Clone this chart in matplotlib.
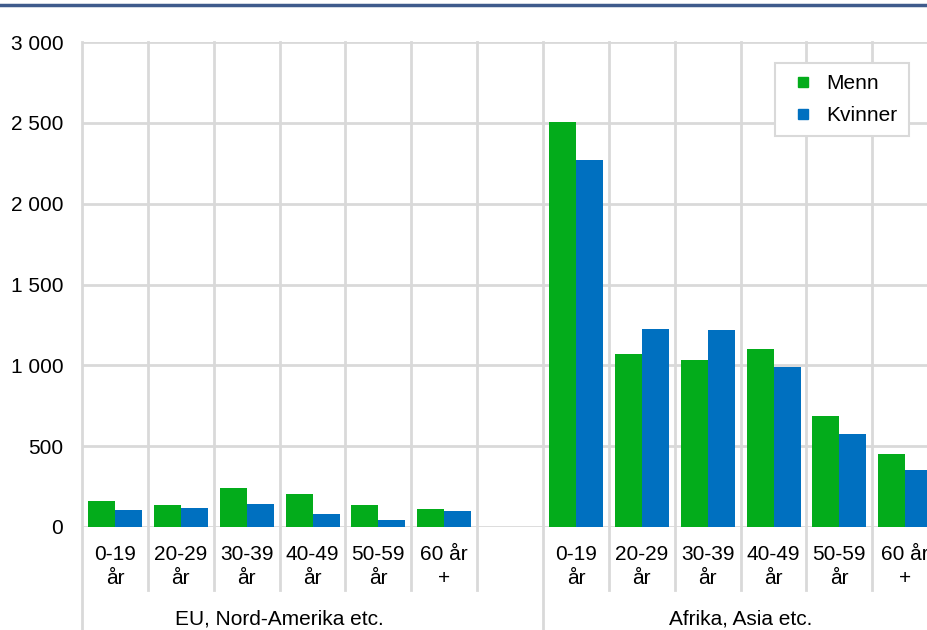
import matplotlib.pyplot as plt
import numpy as np
from matplotlib.lines import Line2D
from matplotlib.transforms import blended_transform_factory

plt.rcParams['font.family'] = ['Liberation Sans', 'DejaVu Sans']

ages = ["0-19\når", "20-29\når", "30-39\når", "40-49\når", "50-59\når", "60 år\n+"]
groups = ["EU, Nord-Amerika etc.", "Afrika, Asia etc."]
menn_eu = [160, 135, 240, 202, 138, 110]
kvinner_eu = [103, 115, 140, 80, 42, 101]
menn_af = [2506, 1068, 1031, 1103, 689, 450]
kvinner_af = [2270, 1222, 1220, 990, 578, 352]

green = "#03AC1B"
blue = "#0070C0"
grid = "#D9D9D9"

fig = plt.figure(figsize=(9.27, 6.3), dpi=100)
ax = fig.add_axes([82/927, 103/630, 845/927, 485/630])

# slots 0-5 left group, slot 6 empty, slots 7-12 right group
x_eu = np.arange(6)
x_af = np.arange(6) + 7
w = 0.41
ax.bar(x_eu - w/2, menn_eu, w, color=green, zorder=3)
ax.bar(x_eu + w/2, kvinner_eu, w, color=blue, zorder=3)
ax.bar(x_af - w/2, menn_af, w, color=green, zorder=3)
ax.bar(x_af + w/2, kvinner_af, w, color=blue, zorder=3)

ax.set_xlim(-0.5, -0.5 + 845/65.86)
ax.set_ylim(0, 3000)
ax.set_yticks(range(0, 3001, 500))
ax.set_yticklabels([f"{v:,}".replace(",", " ") for v in range(0, 3001, 500)])
ax.tick_params(axis='y', length=0, pad=13.5, labelsize=15)
ax.set_xticks([])
for s in ax.spines.values():
    s.set_visible(False)
ax.yaxis.grid(True, color=grid, linewidth=2)
ax.set_axisbelow(True)

# vertical dividers, going down into the label area
tr = blended_transform_factory(ax.transData, ax.transAxes)
for k in range(14):
    low = -0.215 if k in (0, 7) else -0.13
    ax.plot([k - 0.5, k - 0.5], [1, low], color=grid, linewidth=2,
            transform=tr, clip_on=False, zorder=1)

for xs in (x_eu, x_af):
    for x, lab in zip(xs, ages):
        ax.text(x, -0.038, lab, transform=tr, ha='center', va='top',
                fontsize=15, linespacing=1.3)
ax.text(2.5, -0.19, groups[0], transform=tr, ha='center', va='center', fontsize=15)
ax.text(9.5, -0.19, groups[1], transform=tr, ha='center', va='center', fontsize=15)

handles = [Line2D([], [], marker='s', color=green, linestyle='none', markersize=7.5),
           Line2D([], [], marker='s', color=blue, linestyle='none', markersize=7.5)]
leg = ax.legend(handles, ["Menn", "Kvinner"], loc='upper left',
                bbox_to_anchor=(0.82, 0.957), borderaxespad=0, fontsize=15,
                frameon=True, fancybox=False, edgecolor=grid, framealpha=1,
                handlelength=1.6, handletextpad=0.3, labelspacing=0.6,
                borderpad=0.55)
leg.get_frame().set_linewidth(1.5)

fig.add_artist(Line2D([0, 1], [1 - 4.5/630, 1 - 4.5/630], color="#3F5B8C",
                      linewidth=2.5, transform=fig.transFigure))

fig.savefig("out.png", dpi=100)
